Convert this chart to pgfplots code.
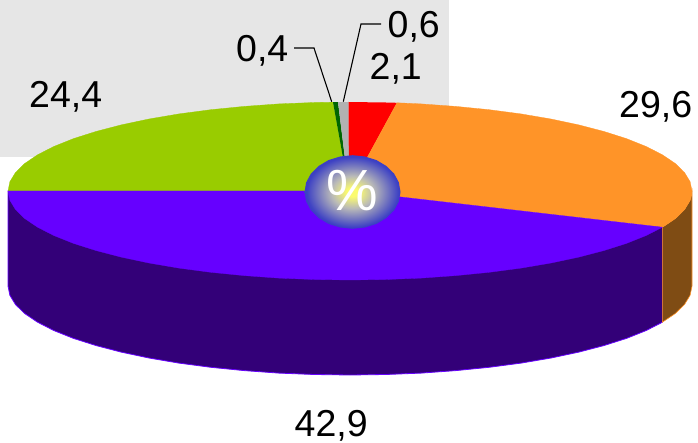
\documentclass[border=0pt]{standalone}
\usepackage{fontspec}
\setmainfont{Liberation Sans}
\usepackage{pgfplots}
\pgfplotsset{compat=1.18}
\definecolor{panel}{HTML}{E6E6E6}
\definecolor{limeslice}{HTML}{99CC00}
\definecolor{greenslice}{HTML}{006600}
\definecolor{grayslice}{HTML}{B2B2B2}
\definecolor{redslice}{HTML}{FF0000}
\definecolor{orangeslice}{HTML}{FF9428}
\definecolor{purpleslice}{HTML}{6600FF}
\definecolor{purpleside}{HTML}{330078}
\definecolor{orangeside}{HTML}{7F4C14}
\definecolor{hubin}{HTML}{FBFB6E}
\definecolor{hubmid}{HTML}{BABAB8}
\definecolor{hubout}{HTML}{3C40C4}
\pgfdeclareradialshading{hubglow}{\pgfpoint{0bp}{0bp}}{color(0bp)=(hubin); color(3bp)=(hubin); color(11bp)=(hubmid); color(24bp)=(hubout); color(50bp)=(hubout)}
\newcommand{\lab}[1]{\fontsize{37.5}{40}\selectfont #1}
\begin{document}
\begin{tikzpicture}
\begin{axis}[
  hide axis, scale only axis,
  width=698pt, height=443pt,
  xmin=0, xmax=698, ymin=0, ymax=443,
  y dir=reverse, clip=false
]
% grey panel behind the upper part of the pie
\addplot[fill=panel, draw=none] coordinates {(0,0)(449,0)(449,157)(0,157)} -- cycle;

% rim of the purple slice
\addplot[fill=purpleside, draw=purpleslice, line width=0.8pt] coordinates {
 (8,191)(8,286)(9.9,295.3)(15.5,304.5)(24.7,313.5)(37.6,322.2)(53.8,330.5)(73.3,338.3)(95.9,345.5)
 (121.2,352.1)(149,358)(179,363.1)(210.9,367.3)(244.3,370.6)(278.9,373.1)(314.3,374.5)(350,375)
 (385.7,374.5)(421.1,373.1)(455.7,370.6)(489.1,367.3)(521,363.1)(551,358)(578.8,352.1)(604.1,345.5)
 (626.7,338.3)(646.2,330.5)(662.4,322.2)(662.4,227.2)
} -- cycle;
% rim of the orange slice
\addplot[fill=orangeside, draw=orangeslice, line width=0.6pt] coordinates {
 (662.4,227.2)(662.4,322.2)(675.3,313.5)(684.5,304.5)(690.1,295.3)(692,286)(692,191)
 (690.1,200.3)(684.5,209.5)(675.3,218.5)
} -- cycle;

% top face: 24,4
\addplot[fill=limeslice, draw=limeslice, line width=0.3pt] coordinates {
 (349,191)(333,102.2)(314.3,102.5)(278.9,103.9)(244.3,106.4)(210.9,109.7)(179,113.9)(149,119)
 (121.2,124.9)(95.9,131.5)(73.3,138.7)(53.8,146.5)(37.6,154.8)(24.7,163.5)(15.5,172.5)(9.9,181.7)(8,191)
} -- cycle;
% top face: 0,4
\addplot[fill=greenslice, draw=none] coordinates {(349,191)(333,102.2)(338,102.1)} -- cycle;
% top face: 0,6
\addplot[fill=grayslice, draw=none] coordinates {(349,191)(338,102.1)(348.5,102)} -- cycle;
% top face: 2,1
\addplot[fill=redslice, draw=none] coordinates {(349,191)(348.5,102)(385.7,102.5)(397,102.8)} -- cycle;
% top face: 29,6
\addplot[fill=orangeslice, draw=orangeslice, line width=0.3pt] coordinates {
 (349,191)(397,102.8)(421.1,103.9)(455.7,106.4)(489.1,109.7)(521,113.9)(551,119)(578.8,124.9)
 (604.1,131.5)(626.7,138.7)(646.2,146.5)(662.4,154.8)(675.3,163.5)(684.5,172.5)(690.1,181.7)(692,191)
 (690.1,200.3)(684.5,209.5)(675.3,218.5)(662.4,227.2)
} -- cycle;
% top face: 42,9
\addplot[fill=purpleslice, draw=purpleslice, line width=0.3pt] coordinates {
 (349,191)(8,191)(9.9,200.3)(15.5,209.5)(24.7,218.5)(37.6,227.2)(53.8,235.5)(73.3,243.3)(95.9,250.5)
 (121.2,257.1)(149,263)(179,268.1)(210.9,272.3)(244.3,275.6)(278.9,278.1)(314.3,279.5)(350,280)
 (385.7,279.5)(421.1,278.1)(455.7,275.6)(489.1,272.3)(521,268.1)(551,263)(578.8,257.1)(604.1,250.5)
 (626.7,243.3)(646.2,235.5)(662.4,227.2)
} -- cycle;

% leader lines of the two thin slices
\addplot[black, line width=1.1pt] coordinates {(294,48)(314,48)(331.7,101.7)};
\addplot[black, line width=1.1pt] coordinates {(381,24)(361,24)(343.3,101.7)};

% central hub
\addplot[draw=none, shade, shading=hubglow] coordinates {
 (400.5,192)(398.9,182.5)(394.1,173.6)(386.4,166)(376.5,160.1)(364.9,156.5)(352.5,155.2)(340.1,156.5)
 (328.5,160.1)(318.6,166)(310.9,173.6)(306.1,182.5)(304.5,192)(306.1,201.5)(310.9,210.4)(318.6,218)
 (328.5,223.9)(340.1,227.5)(352.5,228.8)(364.9,227.5)(376.5,223.9)(386.4,218)(394.1,210.4)(398.9,201.5)
} -- cycle;
\node[anchor=base, inner sep=0pt, text=white] at (axis cs:352.5,211) {\fontsize{58}{60}\selectfont \%};

% value labels
\node[anchor=base west, inner sep=0pt] at (axis cs:387.5,38)  {\lab{0,6}};
\node[anchor=base west, inner sep=0pt] at (axis cs:236,62)  {\lab{0,4}};
\node[anchor=base west, inner sep=0pt] at (axis cs:369.5,80)  {\lab{2,1}};
\node[anchor=base west, inner sep=0pt] at (axis cs:29,108)  {\lab{24,4}};
\node[anchor=base west, inner sep=0pt] at (axis cs:619,118) {\lab{29,6}};
\node[anchor=base west, inner sep=0pt] at (axis cs:294.5,436.5) {\lab{42,9}};
\end{axis}
\useasboundingbox (current axis.south west) rectangle (current axis.north east);
\end{tikzpicture}
\end{document}
